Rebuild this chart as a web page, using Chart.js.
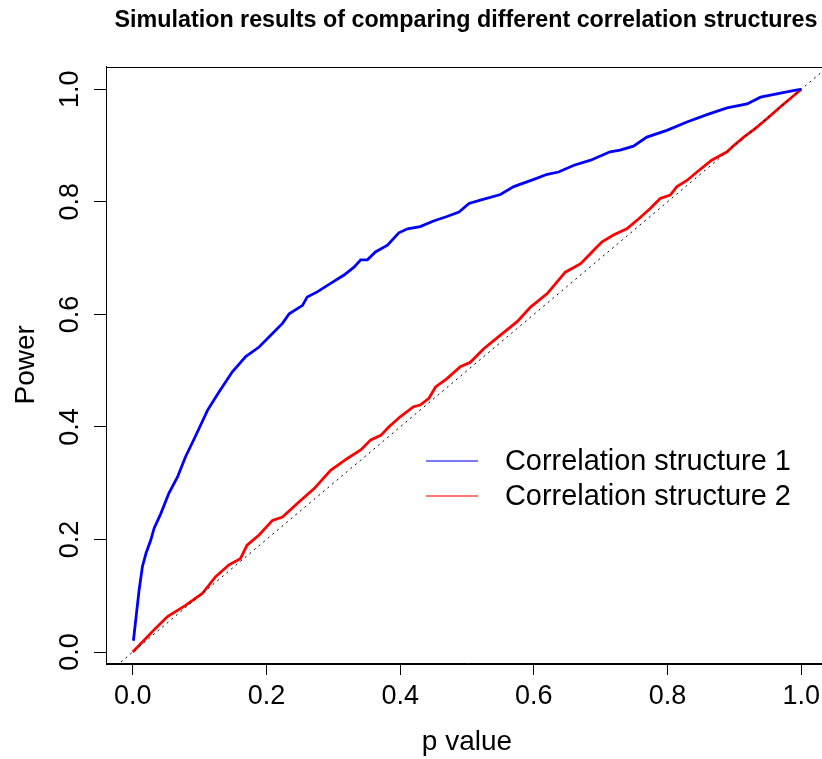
<!DOCTYPE html>
<html>
<head>
<meta charset="utf-8">
<script src="https://cdn.jsdelivr.net/npm/chart.js@4.4.1/dist/chart.umd.min.js"></script>
<style>
    html, body { margin: 0; padding: 0; background: #fff; overflow: hidden; }
    canvas { display: block; }
</style>
</head>
<body>
<canvas id="chart" width="828" height="759"></canvas>
<script>
// Empirical power curves (p value threshold vs. proportion rejected)
const pValue1 = [0.001, 0.0045, 0.0095, 0.0145, 0.020, 0.027, 0.032, 0.042, 0.054, 0.067,
    0.079, 0.092, 0.112, 0.129, 0.149, 0.169, 0.189, 0.209, 0.224, 0.234,
    0.254, 0.261, 0.276, 0.296, 0.316, 0.331, 0.341, 0.351, 0.363, 0.381,
    0.398, 0.411, 0.43, 0.45, 0.47, 0.488, 0.503, 0.52, 0.55, 0.57,
    0.60, 0.62, 0.637, 0.66, 0.685, 0.714, 0.729, 0.749, 0.769, 0.799,
    0.829, 0.859, 0.889, 0.919, 0.939, 0.969, 0.994, 1.0];
const power1 = [0.02, 0.057, 0.11, 0.152, 0.176, 0.199, 0.22, 0.246, 0.282, 0.311,
    0.347, 0.379, 0.43, 0.462, 0.498, 0.525, 0.542, 0.566, 0.584, 0.601,
    0.616, 0.631, 0.64, 0.655, 0.67, 0.684, 0.697, 0.697, 0.711, 0.723,
    0.745, 0.752, 0.756, 0.766, 0.774, 0.782, 0.797, 0.803, 0.813, 0.827,
    0.84, 0.849, 0.853, 0.865, 0.874, 0.889, 0.892, 0.899, 0.915, 0.927,
    0.942, 0.955, 0.967, 0.974, 0.986, 0.993, 0.999, 1.0];

const pValue2 = [0.0, 0.034, 0.052, 0.079, 0.104, 0.124, 0.144, 0.161, 0.171, 0.189,
    0.209, 0.224, 0.249, 0.271, 0.296, 0.321, 0.341, 0.356, 0.371, 0.383,
    0.40, 0.42, 0.43, 0.443, 0.453, 0.47, 0.49, 0.505, 0.525, 0.55,
    0.575, 0.595, 0.62, 0.647, 0.67, 0.687, 0.702, 0.719, 0.739, 0.757,
    0.774, 0.789, 0.804, 0.814, 0.829, 0.844, 0.866, 0.889, 0.899, 0.914,
    0.931, 0.949, 0.969, 1.0];
const power2 = [0.0, 0.042, 0.063, 0.083, 0.104, 0.134, 0.155, 0.166, 0.19, 0.208,
    0.234, 0.24, 0.267, 0.29, 0.323, 0.344, 0.359, 0.377, 0.385, 0.40,
    0.418, 0.436, 0.439, 0.451, 0.471, 0.486, 0.507, 0.515, 0.539, 0.563,
    0.587, 0.613, 0.637, 0.675, 0.69, 0.711, 0.729, 0.741, 0.752, 0.77,
    0.788, 0.806, 0.812, 0.827, 0.838, 0.853, 0.874, 0.889, 0.9, 0.915,
    0.93, 0.948, 0.969, 1.0];

const seriesLabels = ['Correlation structure 1', 'Correlation structure 2'];
const tickValues = [0, 0.2, 0.4, 0.6, 0.8, 1.0];
const referenceLine = [-0.1, 1.1];

const FONT = '"Liberation Sans", Arial, Helvetica, sans-serif';
Chart.defaults.font.family = FONT;
Chart.defaults.color = '#000';

const toPoints = (xs, ys) => xs.map((x, i) => ({ x: x, y: ys[i] }));

// R-style frame, main title and inset legend
const decorations = {
    id: 'decorations',
    afterDraw(chart) {
        const { ctx, chartArea: a } = chart;
        ctx.save();

        ctx.strokeStyle = '#000';
        ctx.lineWidth = 1;
        ctx.strokeRect(Math.round(a.left) + 0.5, Math.round(a.top) + 0.5,
            Math.round(a.right - a.left), Math.round(a.bottom - a.top));

        ctx.fillStyle = '#000';
        ctx.font = 'bold 23.3px ' + FONT;
        ctx.textAlign = 'center';
        ctx.textBaseline = 'middle';
        ctx.fillText('Simulation results of comparing different correlation structures', 466, 21);

        const rows = [
            { y: 461, color: '#0000ff', text: seriesLabels[0] },
            { y: 496, color: '#ff0000', text: seriesLabels[1] },
        ];
        ctx.font = '28.9px ' + FONT;
        ctx.textAlign = 'left';
        rows.forEach(r => {
            ctx.strokeStyle = r.color;
            ctx.globalAlpha = 0.7;
            ctx.lineWidth = 1.5;
            ctx.beginPath();
            ctx.moveTo(426, r.y);
            ctx.lineTo(478, r.y);
            ctx.stroke();
            ctx.globalAlpha = 1;
            ctx.fillText(r.text, 505, r.y + 1);
        });
        ctx.restore();
    }
};

const axisCommon = {
    type: 'linear',
    afterBuildTicks: s => { s.ticks = tickValues.map(v => ({ value: v })); },
    grid: { drawOnChartArea: false, drawTicks: true, tickLength: 12, color: '#000' },
    border: { display: true, color: '#000' },
};

new Chart(document.getElementById('chart'), {
    type: 'scatter',
    data: {
        datasets: [
            {
                label: 'y = x',
                data: toPoints(referenceLine, referenceLine),
                showLine: true,
                borderColor: '#000',
                borderWidth: 1,
                borderDash: [2, 4],
                pointRadius: 0,
                order: 0,
            },
            {
                label: seriesLabels[0],
                data: toPoints(pValue1, power1),
                showLine: true,
                borderColor: '#0000ff',
                borderWidth: 2.8,
                pointRadius: 0,
                order: 1,
            },
            {
                label: seriesLabels[1],
                data: toPoints(pValue2, power2),
                showLine: true,
                borderColor: '#ff0000',
                borderWidth: 2.8,
                pointRadius: 0,
                order: 2,
            },
        ],
    },
    options: {
        responsive: false,
        animation: false,
        layout: { padding: { top: 66.5, left: 0, right: 0, bottom: 0 } },
        plugins: {
            legend: { display: false },
            tooltip: { enabled: false },
        },
        scales: {
            x: {
                ...axisCommon,
                min: -0.04,
                max: 1.04,
                afterFit: s => { s.height = 96; },
                ticks: {
                    padding: 5,
                    maxRotation: 0,
                    font: { size: 27 },
                    color: '#000',
                    callback: v => v.toFixed(1),
                },
                title: {
                    display: true,
                    text: 'p value',
                    font: { size: 28 },
                    color: '#000',
                    padding: { top: 0, bottom: 0 },
                },
            },
            y: {
                ...axisCommon,
                min: -0.0195,
                max: 1.0405,
                afterFit: s => { s.width = 106; },
                ticks: {
                    padding: 5,
                    minRotation: 90,
                    maxRotation: 90,
                    crossAlign: 'center',
                    font: { size: 27 },
                    color: '#000',
                    callback: v => v.toFixed(1),
                },
                title: {
                    display: true,
                    text: 'Power',
                    font: { size: 28 },
                    color: '#000',
                    padding: { top: 9, bottom: 0 },
                },
            },
        },
    },
    plugins: [decorations],
});
</script>
</body>
</html>
